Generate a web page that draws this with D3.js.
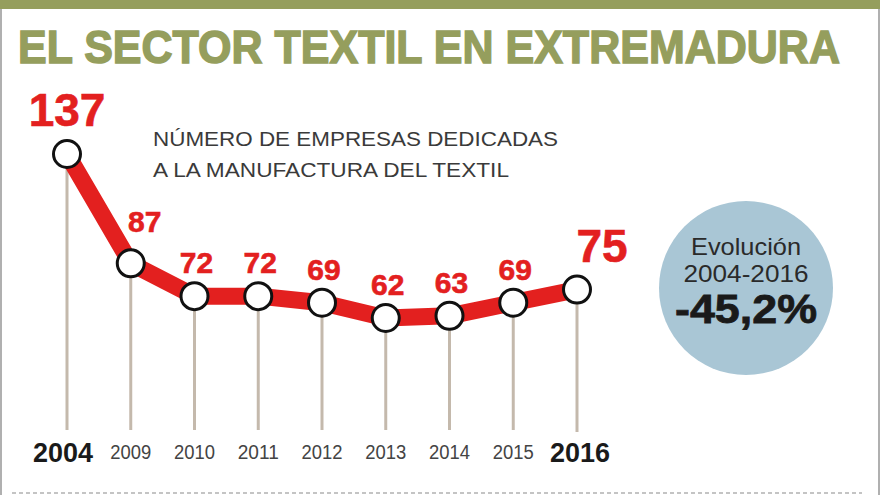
<!DOCTYPE html>
<html><head><meta charset="utf-8">
<script src="https://cdn.jsdelivr.net/npm/d3@7"></script>
<style>html,body{margin:0;padding:0;background:#fff;}svg{display:block;}</style>
</head><body>
<svg id="c" width="880" height="495"></svg>
<script>
const years = ["2004","2009","2010","2011","2012","2013","2014","2015","2016"];
const empresas = [137, 87, 72, 72, 69, 62, 63, 69, 75];
const highlightYears = ["2004","2016"];
const titleText = "EL SECTOR TEXTIL EN EXTREMADURA";
const subtitleLines = ["NÚMERO DE EMPRESAS DEDICADAS", "A LA MANUFACTURA DEL TEXTIL"];
const bubbleLines = ["Evolución", "2004-2016", "-45,2%"];

const svg = d3.select("#c");
const olive = "#959e5d", red = "#e3201f", stem = "#c4b9ac", blue = "#a9c6d5";
const ff = "Liberation Sans, Arial, sans-serif";

svg.append("rect").attr("x",0).attr("y",0).attr("width",880).attr("height",495).attr("fill","#fff");
svg.append("rect").attr("x",0).attr("y",0).attr("width",880).attr("height",9).attr("fill",olive);
svg.append("line").attr("x1",1).attr("x2",1).attr("y1",9).attr("y2",495).attr("stroke","#b0b0b0").attr("stroke-width",2);
svg.append("line").attr("x1",879).attr("x2",879).attr("y1",9).attr("y2",495).attr("stroke","#b0b0b0").attr("stroke-width",2);

svg.append("g").attr("transform","translate(18,63) scale(1,1.2)")
  .append("text").text(titleText)
  .attr("x",0).attr("y",0).attr("textLength",822).attr("lengthAdjust","spacingAndGlyphs")
  .attr("font-family",ff).attr("font-weight","bold")
  .attr("font-size",38).attr("fill",olive).attr("stroke",olive).attr("stroke-width",1.2);

svg.selectAll("text.sub").data(subtitleLines).join("text").attr("class","sub")
  .text(d=>d).attr("x",153).attr("y",(d,i)=>146+i*31)
  .attr("textLength",(d,i)=>i===0?405:356).attr("lengthAdjust","spacingAndGlyphs")
  .attr("font-family",ff).attr("font-size",20).attr("fill","#3a3a3a");

const x = d3.scalePoint().domain(years).range([67,577]);
const y = d3.scaleLinear().domain([62,137]).range([318,154]);
const data = years.map((yr,i)=>({yr, v:empresas[i]}));
const stemBottom = 430;

svg.selectAll("line.stem").data(data).join("line").attr("class","stem")
  .attr("x1",d=>x(d.yr)).attr("x2",d=>x(d.yr)).attr("y1",d=>y(d.v)).attr("y2",d=>d.yr==="2016"?stemBottom+2:stemBottom)
  .attr("stroke",stem).attr("stroke-width",3);

svg.append("path").datum(data)
  .attr("d", d3.line().x(d=>x(d.yr)).y(d=>y(d.v)))
  .attr("fill","none").attr("stroke",red).attr("stroke-width",17).attr("stroke-linejoin","round");

svg.selectAll("circle.pt").data(data).join("circle").attr("class","pt")
  .attr("cx",d=>x(d.yr)).attr("cy",d=>y(d.v)).attr("r",13.5)
  .attr("fill","#fff").attr("stroke","#111").attr("stroke-width",3);

svg.selectAll("text.val").data(data).join("text").attr("class","val")
  .text(d=>d.v)
  .attr("x",(d,i)=> i===0 ? x(d.yr) : (d.yr==="2016" ? x(d.yr)+25 : (i===1 ? x(d.yr)+14 : x(d.yr)+2)))
  .attr("y",(d,i)=> i===0 ? y(d.v)-28 : (d.yr==="2016" ? y(d.v)-28 : y(d.v)-(i===1?31:23)))
  .attr("text-anchor","middle")
  .attr("font-family",ff).attr("font-weight","bold")
  .attr("font-size",d=>highlightYears.includes(d.yr)?46:30).attr("fill",red)
  .attr("stroke",red).attr("stroke-width",0.6);

svg.selectAll("text.yr").data(data).join("text").attr("class","yr")
  .text(d=>d.yr).attr("x",d=>x(d.yr)+(d.yr==="2004"?-4:(d.yr==="2016"?3:0))).attr("y",d=>highlightYears.includes(d.yr)?462:459)
  .attr("text-anchor","middle")
  .attr("textLength",d=>highlightYears.includes(d.yr)?60:41).attr("lengthAdjust","spacingAndGlyphs")
  .attr("font-family",ff)
  .attr("font-weight",d=>highlightYears.includes(d.yr)?"bold":"normal")
  .attr("font-size",d=>highlightYears.includes(d.yr)?27:20)
  .attr("fill",d=>highlightYears.includes(d.yr)?"#1a1a1a":"#444");

svg.append("circle").attr("cx",746).attr("cy",288).attr("r",87).attr("fill",blue);
svg.append("text").text(bubbleLines[0]).attr("x",746).attr("y",255).attr("text-anchor","middle")
  .attr("textLength",110).attr("lengthAdjust","spacingAndGlyphs")
  .attr("font-family",ff).attr("font-size",24).attr("fill","#2a2a2a");
svg.append("text").text(bubbleLines[1]).attr("x",746).attr("y",282).attr("text-anchor","middle")
  .attr("textLength",125).attr("lengthAdjust","spacingAndGlyphs")
  .attr("font-family",ff).attr("font-size",24).attr("fill","#2a2a2a");
svg.append("text").text(bubbleLines[2]).attr("x",746).attr("y",323).attr("text-anchor","middle")
  .attr("textLength",142).attr("lengthAdjust","spacingAndGlyphs")
  .attr("font-family",ff).attr("font-weight","bold").attr("font-size",40).attr("fill","#1a1a1a")
  .attr("stroke","#1a1a1a").attr("stroke-width",0.8);

svg.append("line").attr("x1",12).attr("x2",862).attr("y1",493).attr("y2",493)
  .attr("stroke","#8a8a8a").attr("stroke-width",1.2).attr("stroke-dasharray","4,3");
</script>
</body></html>
